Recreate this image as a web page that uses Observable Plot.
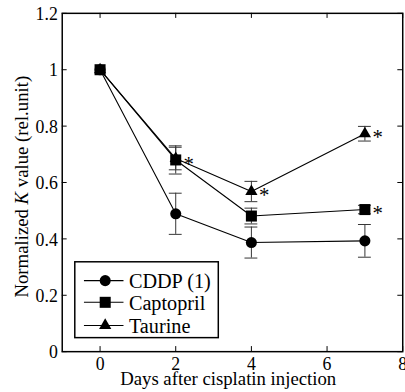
<!DOCTYPE html>
<html>
<head>
<meta charset="utf-8">
<script src="https://cdn.jsdelivr.net/npm/d3@7"></script>
<script src="https://cdn.jsdelivr.net/npm/@observablehq/plot@0.6"></script>
<style>
  html, body { margin: 0; padding: 0; background: #fff; overflow: hidden; }
  #chart { width: 405px; height: 392px; overflow: hidden; }
</style>
</head>
<body>
<div id="chart"></div>
<script>
// ---- data ----
const days = [0, 2, 4, 7];
const seriesNames = ["CDDP (1)", "Captopril", "Taurine"];
const cddp = [1.0, 0.489, 0.387, 0.393];
const cddpErr = [0, 0.073, 0.055, 0.058];
const captopril = [1.0, 0.68, 0.481, 0.504];
const captoprilErr = [0, 0.05, 0.028, 0.015];
const taurine = [1.0, 0.685, 0.568, 0.773];
const taurineErr = [0, 0.04, 0.036, 0.026];
const significant = [["Captopril", 2], ["Taurine", 4], ["Taurine", 7], ["Captopril", 7]];
const xTicks = [0, 2, 4, 6, 8];
const xTickLabels = ["0", "2", "4", "6", "8"];
const yTicks = [0, 0.2, 0.4, 0.6, 0.8, 1, 1.2];
const yTickLabels = ["0", "0.2", "0.4", "0.6", "0.8", "1", "1.2"];
const xLabel = "Days after cisplatin injection";
const yLabelParts = ["Normalized ", "K", " value (rel.unit)"];

// ---- build table ----
const symbols = {"CDDP (1)": "circle", "Captopril": "square", "Taurine": "triangle"};
const radii = {"CDDP (1)": 5.6, "Captopril": 6.3, "Taurine": 4.6};
const vals = {"CDDP (1)": [cddp, cddpErr], "Captopril": [captopril, captoprilErr], "Taurine": [taurine, taurineErr]};
const rows = [];
for (const s of seriesNames) {
  days.forEach((d, i) => rows.push({series: s, day: d, v: vals[s][0][i], e: vals[s][1][i]}));
}
const errRows = rows.filter(r => r.e > 0);
const stars = significant.map(([s, d]) => rows.find(r => r.series === s && r.day === d));
const legendRows = seriesNames.map((s, i) => ({series: s, i}));

const font = "Liberation Serif";
const capHalf = 0.17;
// legend geometry (in data units)
const legY = i => [0.252, 0.175, 0.093][i];

const marks = [
  // error bars
  Plot.ruleX(errRows, {x: "day", y1: d => d.v - d.e, y2: d => d.v + d.e, stroke: "#333", strokeWidth: 1}),
  Plot.ruleY(errRows, {y: d => d.v + d.e, x1: d => d.day - capHalf, x2: d => d.day + capHalf, stroke: "#333", strokeWidth: 1}),
  Plot.ruleY(errRows, {y: d => d.v - d.e, x1: d => d.day - capHalf, x2: d => d.day + capHalf, stroke: "#333", strokeWidth: 1}),
  // lines
  Plot.line(rows, {x: "day", y: "v", z: "series", stroke: "black", strokeWidth: 1.1}),
  // points
  ...seriesNames.map(s => Plot.dot(rows.filter(r => r.series === s), {x: "day", y: "v", symbol: symbols[s], r: radii[s], fill: "black", stroke: "none"})),
  // asterisks
  Plot.text(stars, {x: "day", y: "v", text: () => "*", dx: 13, dy: 4, fontSize: 21, fontFamily: font, fill: "black", textAnchor: "middle"}),
  // inward ticks on all four sides
  Plot.ruleX(xTicks, {x: d => d, y1: 0, y2: 0.018, stroke: "black", strokeWidth: 1}),
  Plot.ruleX(xTicks, {x: d => d, y1: 1.2, y2: 1.182, stroke: "black", strokeWidth: 1}),
  Plot.ruleY(yTicks, {y: d => d, x1: -1, x2: -0.87, stroke: "black", strokeWidth: 1}),
  Plot.ruleY(yTicks, {y: d => d, x1: 8, x2: 7.87, stroke: "black", strokeWidth: 1}),
  // legend
  Plot.rect([0], {x1: -0.655, x2: 3.138, y1: 0.048, y2: 0.317, fill: "white", stroke: "black", strokeWidth: 1.5}),
  Plot.ruleY(legendRows, {y: d => legY(d.i), x1: -0.413, x2: 0.632, stroke: "black", strokeWidth: 1.1}),
  ...legendRows.map(d => Plot.dot([d], {x: 0.136, y: legY(d.i), symbol: symbols[d.series], r: radii[d.series], fill: "black", stroke: "none"})),
  Plot.text(legendRows, {x: 0.762, y: d => legY(d.i), text: "series", textAnchor: "start", fontSize: 20.5, fontFamily: font, fill: "black", dy: 1}),
  // axes
  Plot.axisX(xTicks, {tickSize: 0, tickPadding: 6, tickFormat: d => xTickLabels[xTicks.indexOf(d)], fontSize: 18, fontFamily: font, label: null}),
  Plot.axisY(yTicks, {tickSize: 0, tickPadding: 4.5, tickFormat: d => yTickLabels[yTicks.indexOf(d)], fontSize: 18, fontFamily: font, dy: 1, label: null}),
  Plot.frame({stroke: "black", strokeWidth: 1.5})
];

const chart = Plot.plot({
  width: 410,
  height: 392,
  marginLeft: 62.5,
  marginRight: 2.8,
  marginTop: 13,
  marginBottom: 36.5,
  x: {domain: [-1, 8]},
  y: {domain: [0, 1.2]},
  style: {fontFamily: font, color: "black", background: "white", overflow: "visible"},
  marks
});

// axis titles (text)
const svg = d3.select(chart);
svg.append("text")
  .attr("x", 231).attr("y", 390)
  .attr("text-anchor", "middle")
  .attr("font-family", font).attr("font-size", 19).attr("fill", "black")
  .text(xLabel);
const yl = svg.append("text")
  .attr("transform", "translate(28,189) rotate(-90)")
  .attr("text-anchor", "middle")
  .attr("font-family", font).attr("font-size", 19).attr("fill", "black");
yl.append("tspan").text(yLabelParts[0]);
yl.append("tspan").attr("font-style", "italic").text(yLabelParts[1]);
yl.append("tspan").text(yLabelParts[2]);

document.getElementById("chart").appendChild(chart);
</script>
</body>
</html>
